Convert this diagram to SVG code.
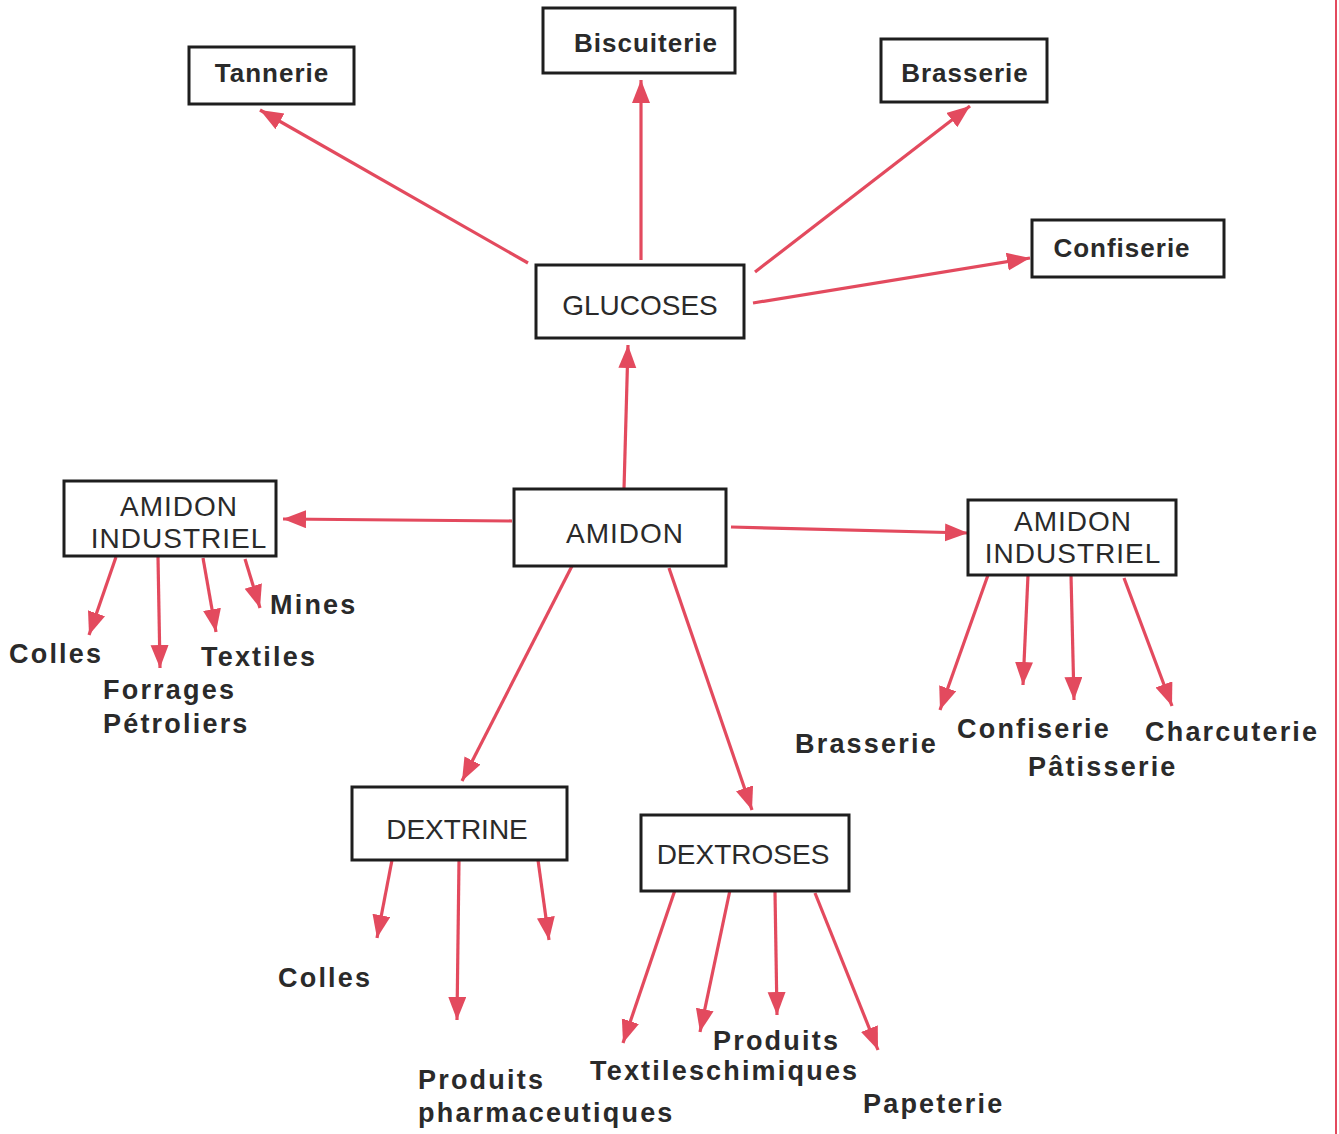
<svg xmlns="http://www.w3.org/2000/svg" width="1339" height="1134" viewBox="0 0 1339 1134">
<style>
.box{fill:#fff;stroke:#1e1e1e;stroke-width:3}
.bl{font-family:"Liberation Sans",Arial,sans-serif;font-weight:bold;font-size:26px;fill:#2a2a2a;letter-spacing:1px;text-anchor:middle}
.rl{font-family:"Liberation Sans",Arial,sans-serif;font-size:28px;fill:#2a2a2a;text-anchor:middle}
.lab{font-family:"Liberation Sans",Arial,sans-serif;font-weight:bold;font-size:27px;fill:#2a2a2a;letter-spacing:2.2px}
.arr{stroke:#e34a5e;stroke-width:3.2;fill:none;marker-end:url(#ah)}
</style>
<defs>
<marker id="ah" markerUnits="userSpaceOnUse" markerWidth="26" markerHeight="20" refX="23" refY="9" orient="auto">
<path d="M0,0 L23,9 L0,18 z" fill="#e34a5e"/>
</marker>
</defs>
<rect width="1339" height="1134" fill="#fff"/>
<line x1="1336" y1="0" x2="1336" y2="1134" stroke="#e34a5e" stroke-width="2"/>
<g id="connectors">
<line class="arr" x1="528" y1="263" x2="260" y2="110"/>
<line class="arr" x1="641" y1="260" x2="641" y2="80"/>
<line class="arr" x1="755" y1="272" x2="970" y2="106"/>
<line class="arr" x1="753" y1="303" x2="1030" y2="258"/>
<line class="arr" x1="624" y1="489" x2="628" y2="345"/>
<line class="arr" x1="512" y1="521" x2="283" y2="519"/>
<line class="arr" x1="731" y1="527" x2="968" y2="533"/>
<line class="arr" x1="572" y1="566" x2="462" y2="781"/>
<line class="arr" x1="669" y1="568" x2="752" y2="810"/>
<line class="arr" x1="116" y1="557" x2="89" y2="635"/>
<line class="arr" x1="158" y1="557" x2="160" y2="668"/>
<line class="arr" x1="203" y1="558" x2="216" y2="632"/>
<line class="arr" x1="245" y1="559" x2="260" y2="608"/>
<line class="arr" x1="988" y1="575" x2="940" y2="710"/>
<line class="arr" x1="1028" y1="575" x2="1023" y2="685"/>
<line class="arr" x1="1071" y1="575" x2="1074" y2="700"/>
<line class="arr" x1="1124" y1="578" x2="1172" y2="706"/>
<line class="arr" x1="392" y1="860" x2="377" y2="938"/>
<line class="arr" x1="459" y1="860" x2="457" y2="1020"/>
<line class="arr" x1="538" y1="860" x2="549" y2="940"/>
<line class="arr" x1="675" y1="890" x2="623" y2="1043"/>
<line class="arr" x1="730" y1="890" x2="700" y2="1032"/>
<line class="arr" x1="775" y1="892" x2="777" y2="1015"/>
<line class="arr" x1="815" y1="893" x2="878" y2="1050"/>
</g>
<g id="tannerie"><rect class="box" x="189" y="47" width="165" height="57"/><text class="bl" x="272" y="82">Tannerie</text></g>
<g id="biscuiterie"><rect class="box" x="543" y="8" width="192" height="65"/><text class="bl" x="646" y="52">Biscuiterie</text></g>
<g id="brasserie-top"><rect class="box" x="881" y="39" width="166" height="63"/><text class="bl" x="965" y="82">Brasserie</text></g>
<g id="confiserie-top"><rect class="box" x="1032" y="220" width="192" height="57"/><text class="bl" x="1122" y="257">Confiserie</text></g>
<g id="glucoses"><rect class="box" x="536" y="265" width="208" height="73"/><text class="rl" x="640" y="315">GLUCOSES</text></g>
<g id="amidon"><rect class="box" x="514" y="489" width="212" height="77"/><text class="rl" x="625" y="543" letter-spacing="1">AMIDON</text></g>
<g id="amidon-industriel-left"><rect class="box" x="64" y="481" width="212" height="75"/><text class="rl" x="179" y="516" letter-spacing="1">AMIDON</text><text class="rl" x="179" y="548" letter-spacing="1">INDUSTRIEL</text></g>
<g id="amidon-industriel-right"><rect class="box" x="968" y="500" width="208" height="75"/><text class="rl" x="1073" y="531" letter-spacing="1">AMIDON</text><text class="rl" x="1073" y="563" letter-spacing="1">INDUSTRIEL</text></g>
<g id="dextrine"><rect class="box" x="352" y="787" width="215" height="73"/><text class="rl" x="457" y="839">DEXTRINE</text></g>
<g id="dextroses"><rect class="box" x="641" y="815" width="208" height="76"/><text class="rl" x="743" y="864">DEXTROSES</text></g>
<g id="labels">
<text class="lab" x="9" y="663">Colles</text>
<text class="lab" x="201" y="666">Textiles</text>
<text class="lab" x="270" y="614">Mines</text>
<text class="lab" x="103" y="699">Forrages</text>
<text class="lab" x="103" y="733">Pétroliers</text>
<text class="lab" x="795" y="753">Brasserie</text>
<text class="lab" x="957" y="738">Confiserie</text>
<text class="lab" x="1145" y="741">Charcuterie</text>
<text class="lab" x="1028" y="776">Pâtisserie</text>
<text class="lab" x="278" y="987">Colles</text>
<text class="lab" x="418" y="1089">Produits</text>
<text class="lab" x="418" y="1122">pharmaceutiques</text>
<text class="lab" x="713" y="1050">Produits</text>
<text class="lab" x="590" y="1080">Textiles</text>
<text class="lab" x="706" y="1080">chimiques</text>
<text class="lab" x="863" y="1113">Papeterie</text>
</g>
</svg>
